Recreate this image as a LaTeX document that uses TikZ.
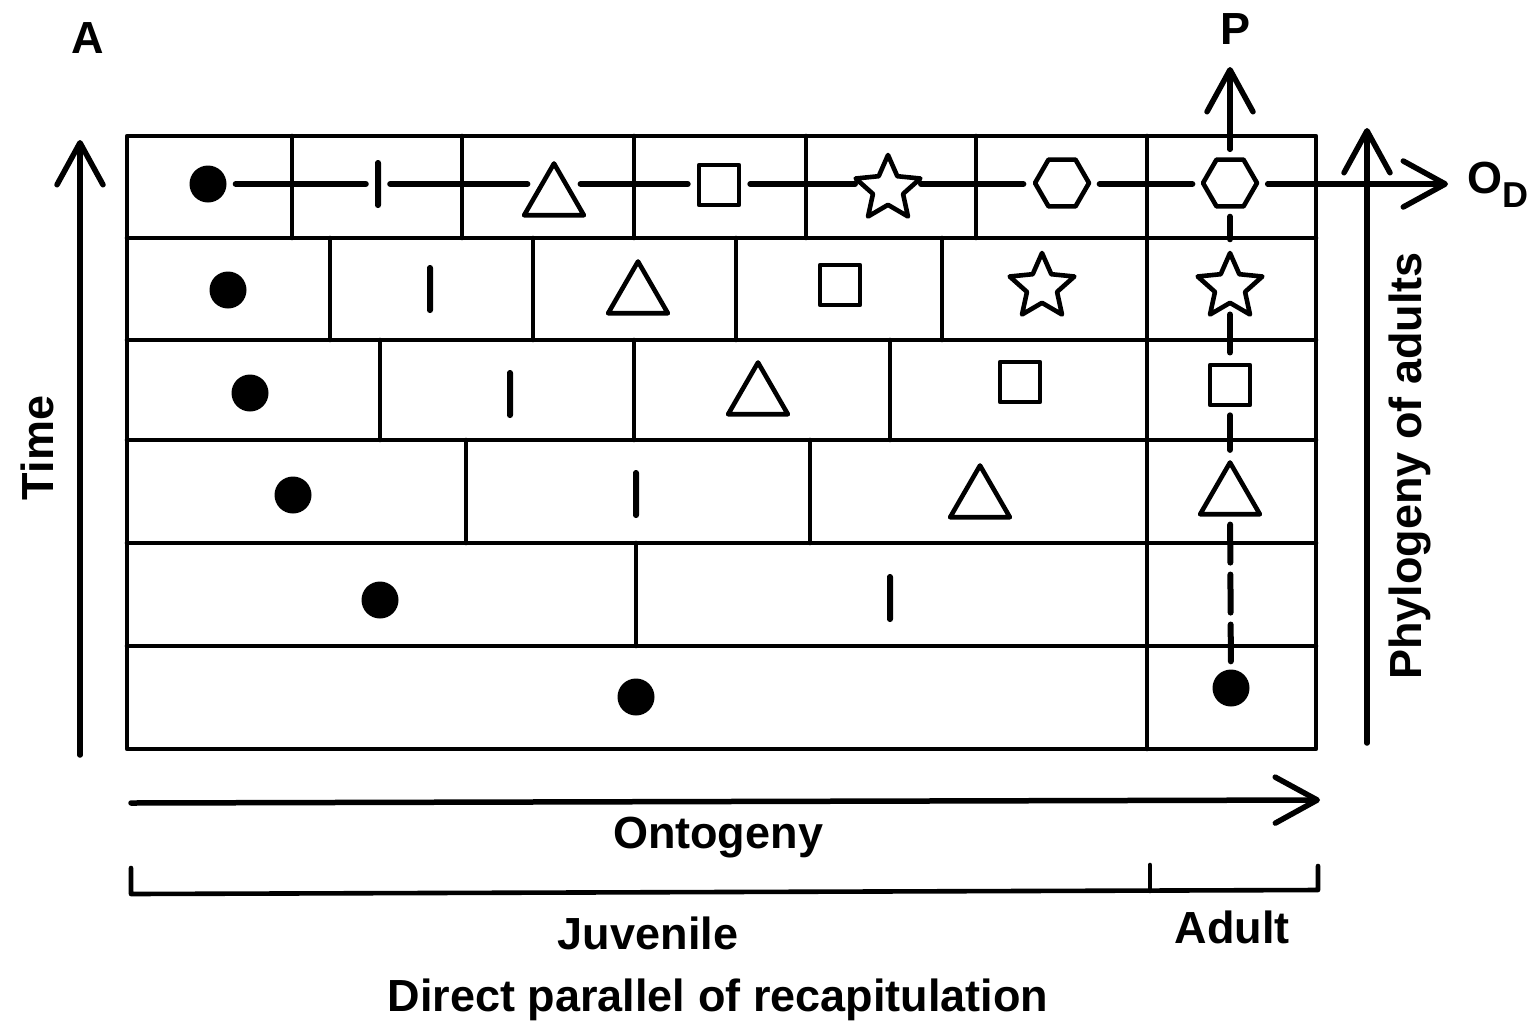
\documentclass[tikz,border=0pt]{standalone}
\usepackage{fontspec}
\setmainfont{Liberation Sans}
\usetikzlibrary{shapes.geometric,arrows.meta}
\begin{document}
\begin{tikzpicture}[x=1pt,y=-1pt,
  grid/.style={line width=4.6pt, line cap=round, line join=round},
  sym/.style={draw, line width=4.6pt, inner sep=0pt, fill=white, line join=round},
  dotsym/.style={circle, fill=black, inner sep=0pt, minimum size=37pt},
  barsym/.style={rectangle, fill=black, inner sep=0pt, minimum width=6pt, minimum height=48pt, rounded corners=2.8pt},
  trisym/.style={sym, regular polygon, regular polygon sides=3, minimum size=69pt},
  sqsym/.style={sym, rectangle, minimum size=40pt},
  starsym/.style={sym, star, star points=5, star point ratio=2.15, minimum size=68pt},
  hexsym/.style={sym, regular polygon, regular polygon sides=6, minimum size=54pt},
  link/.style={line width=6pt, line cap=round, shorten <=9pt, shorten >=9pt},
  vlink/.style={line width=6pt, line cap=round, shorten <=8pt, shorten >=8pt, dash pattern=on 38pt off 12pt},
  barb/.style={line width=5.5pt, line cap=round, -{Straight Barb[length=42pt, width=46pt, line cap=round, round]}},
  lab/.style={font=\bfseries\fontsize{45}{54}\selectfont, inner sep=0pt}
]
\useasboundingbox (0,0) rectangle (1533,1026);

% grid
\draw[grid] (127,136) rectangle (1316,749);
\foreach \y in {238,340,440,543,646} \draw[grid] (127,\y) -- (1316,\y);
\draw[grid] (1147,136) -- (1147,749);
\foreach \x in {292,462,634,806,976} \draw[grid] (\x,136) -- (\x,238);
\foreach \x in {330,533,736,942} \draw[grid] (\x,238) -- (\x,340);
\foreach \x in {380,634,890} \draw[grid] (\x,340) -- (\x,440);
\foreach \x in {466,810} \draw[grid] (\x,440) -- (\x,543);
\draw[grid] (636,543) -- (636,646);

% row 1
\coordinate (r1) at (0,184);
\node[dotsym] (d1) at (208,184) {};
\node[barsym] (b1) at (378,184) {};
\node[trisym] (t1) at (554,198) {};
\node[sqsym] (s1) at (719,185) {};
\node[starsym] (st1) at (888,189) {};
\node[hexsym] (h1) at (1062,183) {};
\node[hexsym] (hA) at (1230,183) {};

% row 2
\node[dotsym] (d2) at (228,290) {};
\node[barsym] (b2) at (430,289) {};
\node[trisym] (t2) at (638,296) {};
\node[sqsym] (s2) at (840,285) {};
\node[starsym] (st2) at (1042,287) {};
\node[starsym] (stA) at (1230,287) {};

% row 3
\node[dotsym] (d3) at (250,393) {};
\node[barsym] (b3) at (510,394) {};
\node[trisym] (t3) at (758,397) {};
\node[sqsym] (s3) at (1020,382) {};
\node[sqsym] (sA) at (1230,385) {};

% row 4
\node[dotsym] (d4) at (293,495) {};
\node[barsym] (b4) at (636,494) {};
\node[trisym] (t4) at (980,500) {};
\node[trisym] (tA) at (1230,497) {};

% row 5
\node[dotsym] (d5) at (380,600) {};
\node[barsym] (b5) at (890,598) {};

% row 6
\node[dotsym] (d6) at (636,697) {};
\node[dotsym] (dA) at (1231,688) {};

% horizontal chain in row 1
\coordinate (ODtip) at (1448,184);
\draw[link] (d1) -- (b1);
\draw[link, shorten >=4pt] (b1) -- (t1.west |- r1);
\draw[link, shorten <=4pt] (t1.east |- r1) -- (s1.west |- r1);
\draw[link] (s1.east |- r1) -- (st1.west |- r1);
\draw[link] (st1.east |- r1) -- (h1.west |- r1);
\draw[link, shorten <=8pt, shorten >=8pt] (h1.east |- r1) -- (hA.west |- r1);
\draw[barb, shorten <=8pt] (hA.east |- r1) -- (ODtip);

% vertical chain in adult column
\coordinate (Ptip) at (1230,67);
\draw[vlink] (tA) -- (dA);
\draw[vlink] (sA) -- (tA);
\draw[vlink, shorten <=9pt] (stA) -- (sA);
\draw[vlink] (hA) -- (stA);
\draw[barb, shorten <=8pt] (hA) -- (Ptip);

% axes
\coordinate (Tbot) at (80,755);
\coordinate (Ttop) at (80,140);
\draw[barb] (Tbot) -- (Ttop);
\coordinate (Phbot) at (1367,743);
\coordinate (Phtop) at (1367,128);
\draw[barb] (Phbot) -- (Phtop);
\coordinate (Onl) at (131,803);
\coordinate (Onr) at (1320,800);
\draw[barb] (Onl) -- (Onr);

% bracket
\coordinate (Bl) at (131,868);
\coordinate (Br) at (1318,866);
\coordinate (Bm) at (1150,865);
\draw[grid] (Bl) -- (131,894) -- (1318,890) -- (Br);
\draw[grid] (Bm) -- (1150,891);

% labels
\node[lab] (A) at (88,38) {A};
\node[lab] (P) at (1235,29) {P};
\node[lab, anchor=west] (OD) at (1467,185) {O\raisebox{-14pt}{\fontsize{36}{40}\selectfont D}};
\node[lab, rotate=90] (time) at (37,448) {Time};
\node[lab, rotate=90] (phy) at (1410,466) {Phylogeny of adults};
\node[lab] (onto) at (718,838) {Ontogeny};
\node[lab] (juv) at (648,933) {Juvenile};
\node[lab] (adult) at (1232,927) {Adult};
\node[lab] (title) at (718,1000) {Direct parallel of recapitulation};
\end{tikzpicture}
\end{document}
